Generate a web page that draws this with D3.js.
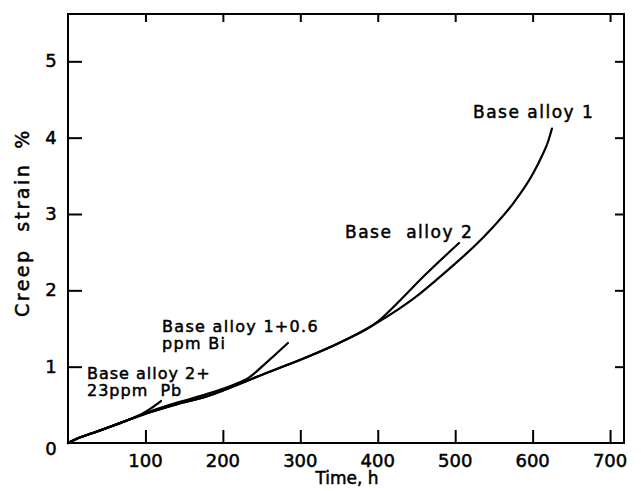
<!DOCTYPE html>
<html><head><meta charset="utf-8">
<script src="https://cdn.jsdelivr.net/npm/d3@7"></script>
<style>
html,body{margin:0;padding:0;background:#fff;}
text{font-family:"DejaVu Sans",sans-serif;fill:#000;}
</style></head>
<body><svg id="c" width="641" height="491"></svg>
<script>
// Data (time in h, creep strain in %)
const alloy1Time   = [0, 10, 32, 67, 102, 141, 179, 218, 257, 300, 350, 400, 425, 450, 475, 500, 525, 549, 575, 600, 612, 620, 625];
const alloy1Strain = [0, 0.05, 0.13, 0.26, 0.39, 0.51, 0.61, 0.76, 0.92, 1.09, 1.31, 1.58, 1.74, 1.92, 2.13, 2.35, 2.58, 2.83, 3.14, 3.52, 3.76, 3.95, 4.12];
const alloy2Time   = [0, 10, 32, 67, 102, 141, 179, 218, 257, 300, 350, 400, 430, 459, 505];
const alloy2Strain = [0, 0.05, 0.13, 0.26, 0.39, 0.51, 0.61, 0.76, 0.92, 1.09, 1.31, 1.59, 1.88, 2.18, 2.62];
const biTime   = [0, 10, 32, 67, 102, 141, 179, 218, 231, 258, 284];
const biStrain = [0, 0.05, 0.13, 0.26, 0.40, 0.53, 0.64, 0.78, 0.84, 1.07, 1.31];
const pbTime   = [0, 10, 32, 67, 97, 108, 120];
const pbStrain = [0, 0.05, 0.13, 0.26, 0.39, 0.46, 0.55];
const xTicks = [100, 200, 300, 400, 500, 600, 700];
const yTicks = [1, 2, 3, 4, 5];

(function(){
const svg = d3.select("#c");
const x = d3.scaleLinear().domain([0, 718]).range([68, 624]);
const y = d3.scaleLinear().domain([0, 5.62]).range([443, 14]);

svg.append("rect").attr("x", x(0)).attr("y", y(5.62)).attr("width", x(718)-x(0)).attr("height", y(0)-y(5.62))
  .attr("fill","none").attr("stroke","#000").attr("stroke-width",2);

const axB = d3.axisBottom(x).tickValues(xTicks).tickSize(-13).tickFormat("");
const axL = d3.axisLeft(y).tickValues(yTicks).tickSize(-14).tickFormat("");
const axT = d3.axisTop(x).tickValues(xTicks).tickSize(-8).tickFormat("");
const axR = d3.axisRight(y).tickValues(yTicks).tickSize(-9).tickFormat("");
function styleAxis(g){ g.select(".domain").remove(); g.selectAll("line").attr("stroke","#000").attr("stroke-width",2); }
svg.append("g").attr("transform",`translate(0,${y(0)})`).call(axB).call(styleAxis);
svg.append("g").attr("transform",`translate(${x(0)},0)`).call(axL).call(styleAxis);
svg.append("g").attr("transform",`translate(0,${y(5.62)})`).call(axT).call(styleAxis);
svg.append("g").attr("transform",`translate(${x(718)},0)`).call(axR).call(styleAxis);

const heavy = g => g.attr("stroke","#000").attr("stroke-width",0.5);

svg.selectAll(".xl").data(xTicks).enter().append("text")
  .attr("x", d => x(d)).attr("y", 467).attr("text-anchor","middle").attr("font-size",18).call(heavy).text(d => d);
svg.selectAll(".yl").data([0].concat(yTicks)).enter().append("text")
  .attr("x", 51).attr("y", d => y(d) + (d===0 ? 12 : 6)).attr("text-anchor","middle").attr("font-size",18).call(heavy).text(d => d);

svg.append("text").attr("x",347).attr("y",484).attr("text-anchor","middle").attr("font-size",17).call(heavy).text("Time, h");
const yt = svg.append("text").attr("transform","translate(29,317) rotate(-90)").attr("text-anchor","start")
  .attr("font-size",19).attr("letter-spacing",2.5).attr("word-spacing",8).call(heavy);
yt.append("tspan").text("Creep strain");
yt.append("tspan").attr("dx",14).text("%");

const line = d3.line().x(d => x(d[0])).y(d => y(d[1])).curve(d3.curveMonotoneX);
const series = [
  [alloy1Time, alloy1Strain],
  [alloy2Time, alloy2Strain],
  [biTime, biStrain],
  [pbTime, pbStrain]
];
series.forEach(([t, s]) => {
  svg.append("path").datum(t.map((v,i) => [v, s[i]])).attr("d", line)
    .attr("fill","none").attr("stroke","#000").attr("stroke-width",2.2).attr("stroke-linecap","round");
});

const labels = [
  {lines:["Base alloy 1"], x:473, y:118, ls:1.5, fs:17},
  {lines:["Base  alloy 2"], x:345, y:238, ls:1.5, fs:17},
  {lines:["Base alloy 1+0.6", "ppm Bi"], x:162, y:332, ls:1.3, fs:16},
  {lines:["Base alloy 2+", "23ppm  Pb"], x:87, y:379, ls:1, fs:16}
];
labels.forEach(l => {
  l.lines.forEach((s,i) => svg.append("text").attr("x", l.x).attr("y", l.y + i*17).attr("font-size", l.fs)
    .attr("letter-spacing", l.ls).style("white-space","pre").call(heavy).text(s));
});
})();
</script></body></html>
